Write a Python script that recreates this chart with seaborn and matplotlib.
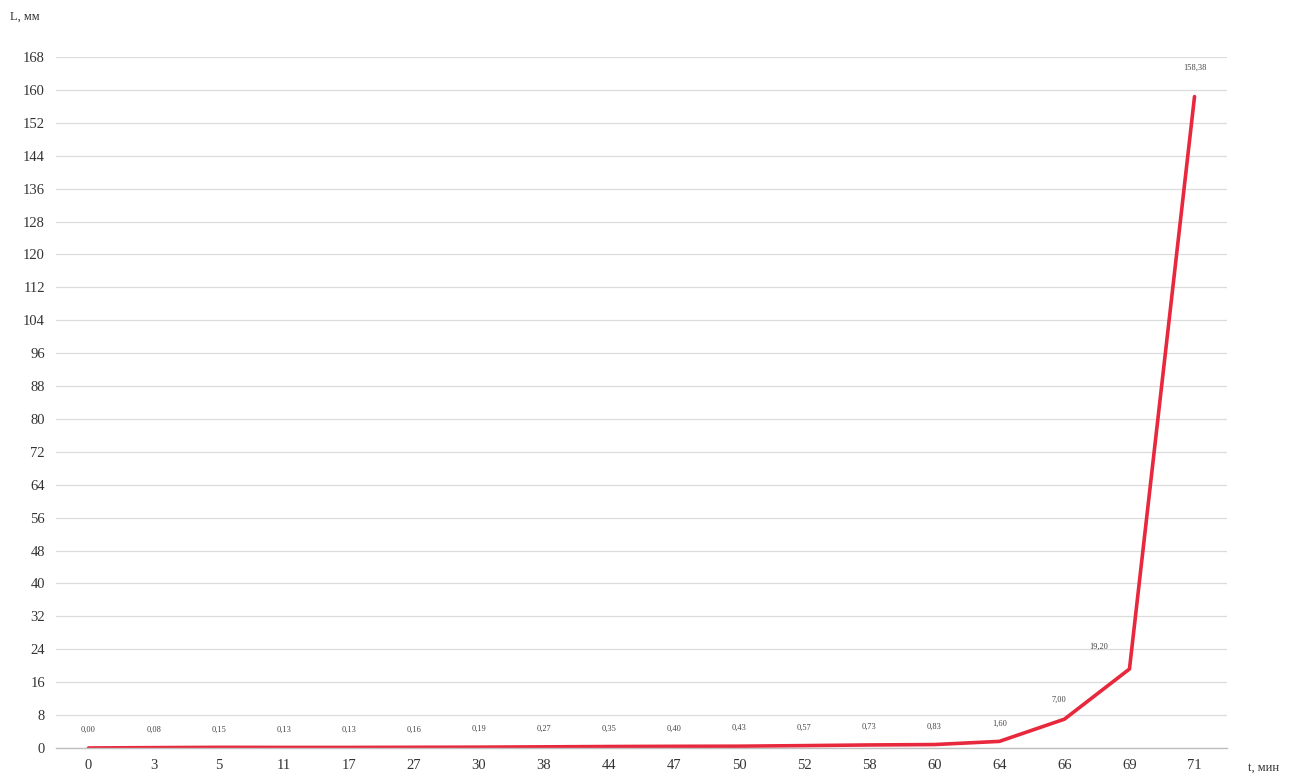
import matplotlib
matplotlib.use("Agg")
import matplotlib.pyplot as plt
import seaborn as sns
import numpy as np
import pandas as pd

t_labels = ["0", "3", "5", "11", "17", "27", "30", "38", "44", "47", "50", "52",
            "58", "60", "64", "66", "69", "71"]
L_values = [0.00, 0.08, 0.15, 0.13, 0.13, 0.16, 0.19, 0.27, 0.35, 0.40, 0.43, 0.57,
            0.73, 0.83, 1.60, 7.00, 19.20, 158.38]
value_labels = ["0,00", "0,08", "0,15", "0,13", "0,13", "0,16", "0,19", "0,27", "0,35",
                "0,40", "0,43", "0,57", "0,73", "0,83", "1,60", "7,00", "19,20", "158,38"]
y_ticks = list(range(0, 169, 8))

sns.set_theme(style="white")
plt.rcParams['font.family'] = ['Liberation Serif', 'DejaVu Serif']

df = pd.DataFrame({"pos": np.arange(len(t_labels)), "L": L_values})

fig = plt.figure(figsize=(12.93, 7.81), dpi=100)
ax = fig.add_axes([0.0433, 0.0423, 0.9057, 0.8847])

sns.lineplot(data=df, x="pos", y="L", ax=ax, color="#e8283c", linewidth=2.6)

ax.set_xlim(-0.5, len(t_labels) - 0.5)
ax.set_ylim(0, 168)
ax.set_yticks(y_ticks)
ax.set_yticklabels([str(v) for v in y_ticks], fontsize=10.5, color="#333333")
ax.set_xticks(df["pos"])
ax.set_xticklabels(t_labels, fontsize=10.5, color="#333333")
ax.tick_params(axis="both", length=0, pad=8)
ax.set_xlabel("")
ax.set_ylabel("")
ax.grid(axis="y", color="#dcdcdc", linewidth=0.9)
ax.set_axisbelow(True)
for s in ["top", "right", "left"]:
    ax.spines[s].set_visible(False)
ax.spines["bottom"].set_color("#bfbfbf")
ax.spines["bottom"].set_linewidth(1.0)

offsets = [(0, 10)] * 15 + [(-4, 11), (-22, 13), (0, 18)]
for i, (x, y) in enumerate(zip(df["pos"], df["L"])):
    ax.annotate(value_labels[i], (x, y), xytext=offsets[i], textcoords="offset points",
                ha="center", va="bottom", fontsize=6, color="#444444")

fig.text(10 / 1293, 1 - 17 / 781, "L, мм", fontsize=9, color="#333333", va="center", ha="left")
fig.text(1248 / 1293, 1 - 768 / 781, "t, мин", fontsize=9, color="#333333", va="center", ha="left")

fig.savefig("out.png", dpi=100, facecolor="white")
